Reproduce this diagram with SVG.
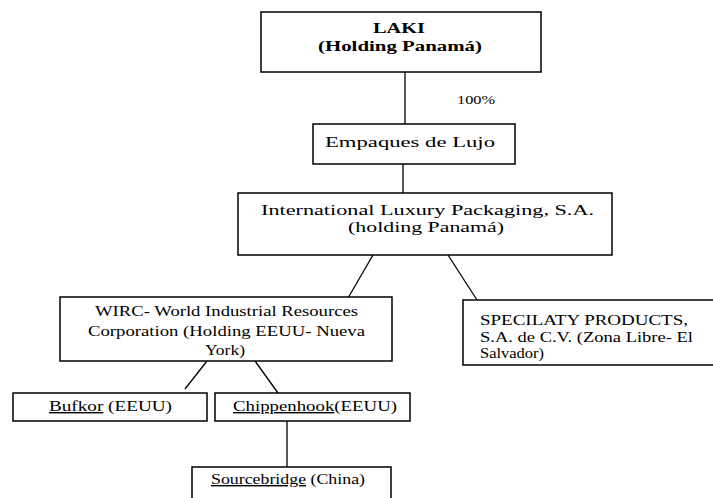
<svg xmlns="http://www.w3.org/2000/svg" width="713" height="498" viewBox="0 0 713 498">
<style>
.box{fill:#fff;stroke:#000;stroke-width:1.5}
.ln{stroke:#000;stroke-width:1.3;fill:none}
text{font-family:'Liberation Serif','DejaVu Serif',serif;font-size:14px;fill:#000}
.b{font-weight:bold}
.u{text-decoration:underline}
</style>
<rect width="713" height="498" fill="#fff"/>
<g id="connectors">
<line class="ln" x1="405" y1="72" x2="405" y2="124"/>
<line class="ln" x1="403" y1="164" x2="403" y2="193"/>
<line class="ln" x1="373" y1="255" x2="348" y2="298"/>
<line class="ln" x1="448" y1="255" x2="477" y2="300"/>
<line class="ln" x1="207" y1="361" x2="185" y2="389"/>
<line class="ln" x1="255" y1="361" x2="278" y2="393"/>
<line class="ln" x1="287" y1="421" x2="287" y2="467"/>
<text x="457" y="104" textLength="38" lengthAdjust="spacingAndGlyphs" style="font-size:12px">100%</text>
</g>
<g id="laki">
<rect class="box" x="261" y="12" width="280" height="60"/>
<text class="b" x="373" y="33" textLength="52" lengthAdjust="spacingAndGlyphs">LAKI</text>
<text class="b" x="318" y="51" textLength="164" lengthAdjust="spacingAndGlyphs">(Holding Panamá)</text>
</g>
<g id="empaques">
<rect class="box" x="313" y="124" width="202" height="40"/>
<text x="325" y="147" textLength="170" lengthAdjust="spacingAndGlyphs">Empaques de Lujo</text>
</g>
<g id="ilp">
<rect class="box" x="238" y="193" width="374" height="62"/>
<text x="261" y="215" textLength="333" lengthAdjust="spacingAndGlyphs">International Luxury Packaging, S.A.</text>
<text x="348" y="232" textLength="156" lengthAdjust="spacingAndGlyphs">(holding Panamá)</text>
</g>
<g id="wirc">
<rect class="box" x="60" y="297" width="332" height="64"/>
<text x="95" y="316" textLength="263" lengthAdjust="spacingAndGlyphs">WIRC- World Industrial Resources</text>
<text x="88" y="336" textLength="277" lengthAdjust="spacingAndGlyphs">Corporation (Holding EEUU- Nueva</text>
<text x="205" y="355" textLength="40" lengthAdjust="spacingAndGlyphs">York)</text>
</g>
<g id="specialty">
<rect class="box" x="463" y="300" width="260" height="65"/>
<text x="480" y="325" textLength="208" lengthAdjust="spacingAndGlyphs">SPECILATY PRODUCTS,</text>
<text x="480" y="342" textLength="213" lengthAdjust="spacingAndGlyphs">S.A. de C.V. (Zona Libre- El</text>
<text x="480" y="358" textLength="64" lengthAdjust="spacingAndGlyphs">Salvador)</text>
</g>
<g id="bufkor">
<rect class="box" x="13" y="393" width="194" height="28"/>
<text x="49" y="411" textLength="123" lengthAdjust="spacingAndGlyphs"><tspan class="u">Bufkor</tspan> (EEUU)</text>
</g>
<g id="chippenhook">
<rect class="box" x="215" y="393" width="195" height="28"/>
<text x="233" y="411" textLength="164" lengthAdjust="spacingAndGlyphs"><tspan class="u">Chippenhook</tspan>(EEUU)</text>
</g>
<g id="sourcebridge">
<rect class="box" x="192" y="467" width="199" height="40"/>
<text x="211" y="484" textLength="154" lengthAdjust="spacingAndGlyphs"><tspan class="u">Sourcebridge</tspan> (China)</text>
</g>
</svg>
